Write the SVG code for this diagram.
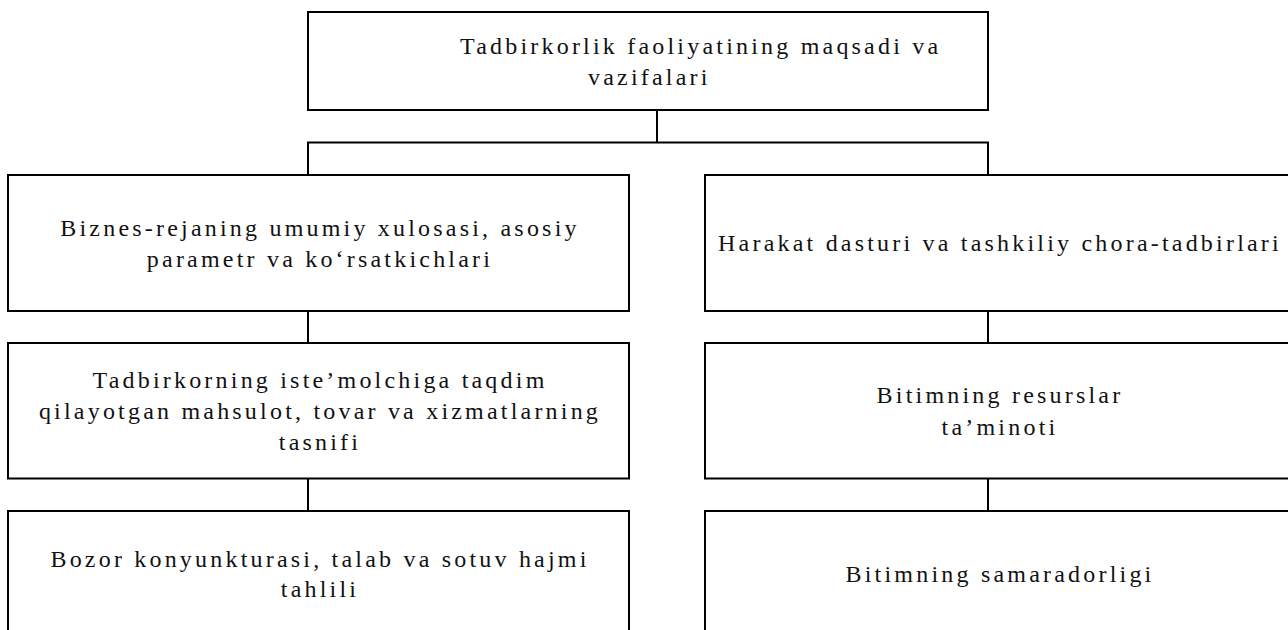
<svg xmlns="http://www.w3.org/2000/svg" width="1288" height="630" viewBox="0 0 1288 630">
<style>
.box{fill:#fff;stroke:#000;stroke-width:2}
.ln{fill:none;stroke:#000;stroke-width:2}
text{font-family:"Liberation Serif","Times New Roman","DejaVu Serif",serif;font-size:24px;letter-spacing:3.2px;fill:#111}
.c{text-anchor:middle}
</style>
<rect width="1288" height="630" fill="#fff"/>
<g id="connectors">
<line class="ln" x1="657" y1="110" x2="657" y2="142.5"/>
<polyline class="ln" points="308,175 308,142.5 988,142.5 988,175"/>
<line class="ln" x1="308" y1="311" x2="308" y2="343"/>
<line class="ln" x1="308" y1="478.5" x2="308" y2="511"/>
<line class="ln" x1="988" y1="311" x2="988" y2="343"/>
<line class="ln" x1="988" y1="478.5" x2="988" y2="511"/>
</g>
<g id="top">
<rect class="box" x="308" y="12" width="680" height="98"/>
<text x="460" y="54">Tadbirkorlik faoliyatining maqsadi va</text>
<text x="588" y="85">vazifalari</text>
</g>
<g id="left1">
<rect class="box" x="8" y="175" width="621" height="136"/>
<text class="c" x="320" y="236">Biznes-rejaning umumiy xulosasi, asosiy</text>
<text class="c" x="320" y="267">parametr va ko‘rsatkichlari</text>
</g>
<g id="left2">
<rect class="box" x="8" y="343" width="621" height="135.5"/>
<text class="c" x="320" y="388">Tadbirkorning iste’molchiga taqdim</text>
<text class="c" x="320" y="419">qilayotgan mahsulot, tovar va xizmatlarning</text>
<text class="c" x="320" y="450">tasnifi</text>
</g>
<g id="left3">
<rect class="box" x="8" y="511" width="621" height="130"/>
<text class="c" x="320" y="567">Bozor konyunkturasi, talab va sotuv hajmi</text>
<text class="c" x="320" y="597">tahlili</text>
</g>
<g id="right1">
<rect class="box" x="705" y="175" width="600" height="136"/>
<text class="c" x="1000" y="251">Harakat dasturi va tashkiliy chora-tadbirlari</text>
</g>
<g id="right2">
<rect class="box" x="705" y="343" width="600" height="135.5"/>
<text class="c" x="1000" y="403">Bitimning resurslar</text>
<text class="c" x="1000" y="435">ta’minoti</text>
</g>
<g id="right3">
<rect class="box" x="705" y="511" width="600" height="130"/>
<text class="c" x="1000" y="582">Bitimning samaradorligi</text>
</g>
</svg>
